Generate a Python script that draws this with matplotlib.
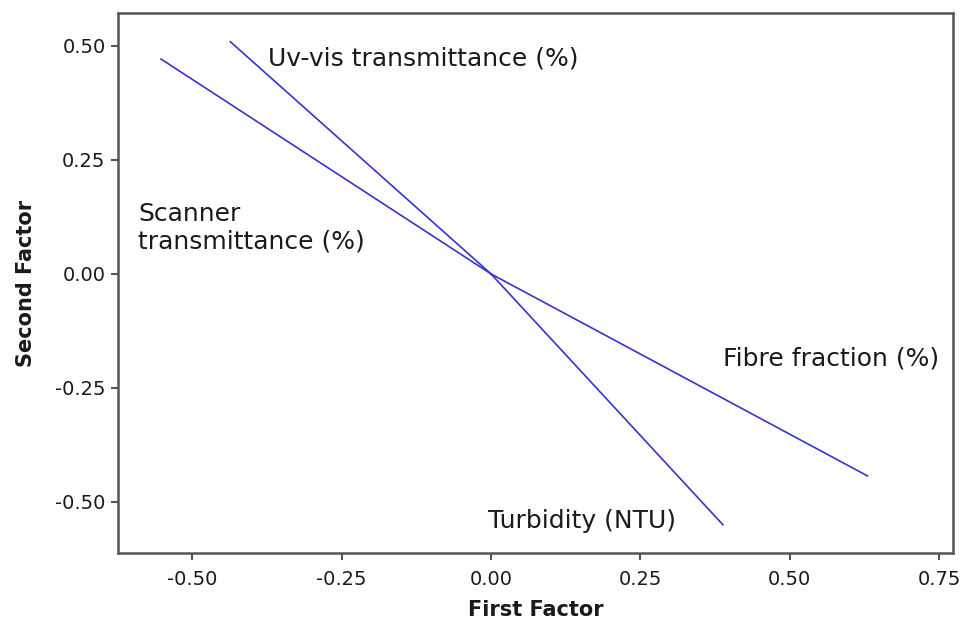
import matplotlib
matplotlib.use("Agg")
import matplotlib.pyplot as plt

# Loadings (first factor, second factor)
variables = ["Uv-vis transmittance (%)", "Scanner\ntransmittance (%)",
             "Fibre fraction (%)", "Turbidity (NTU)"]
first_factor = [-0.436, -0.552, 0.630, 0.388]
second_factor = [0.509, 0.471, -0.443, -0.550]

label_x = [-0.373, -0.590, 0.388, -0.005]
label_y = [0.456, 0.055, -0.200, -0.557]

xticks = [-0.50, -0.25, 0.00, 0.25, 0.50, 0.75]
yticks = [-0.50, -0.25, 0.00, 0.25, 0.50]

plt.rcParams['font.family'] = ['DejaVu Sans']

fig = plt.figure(figsize=(9.67, 6.19), dpi=100)
ax = fig.add_axes([118/967, 1-553/619, (953-118)/967, (553-13)/619])

for fx, fy in zip(first_factor, second_factor):
    ax.plot([0, fx], [0, fy], color='#3535c8', lw=1.2)

for name, tx, ty in zip(variables, label_x, label_y):
    ax.text(tx, ty, name, fontsize=18, color='#1a1a1a', ha='left', va='baseline',
            linespacing=1.2)

ax.set_xlim(-0.624, 0.773)
ax.set_ylim(-0.612, 0.572)
ax.set_xticks(xticks)
ax.set_yticks(yticks)
ax.set_xticklabels([f"{v:.2f}" for v in xticks])
ax.set_yticklabels([f"{v:.2f}" for v in yticks])
ax.tick_params(labelsize=14, length=5, width=1.5, color='#555555', labelcolor='#1a1a1a', pad=4)
ax.tick_params(axis='x', pad=7)
for s in ax.spines.values():
    s.set_color('#555555')
    s.set_linewidth(1.8)

ax.set_xlabel("First Factor", fontsize=15, fontweight='bold', color='#1a1a1a', labelpad=8)
ax.set_ylabel("Second Factor", fontsize=15, fontweight='bold', color='#1a1a1a', labelpad=14)

fig.savefig("out.png", dpi=100)
